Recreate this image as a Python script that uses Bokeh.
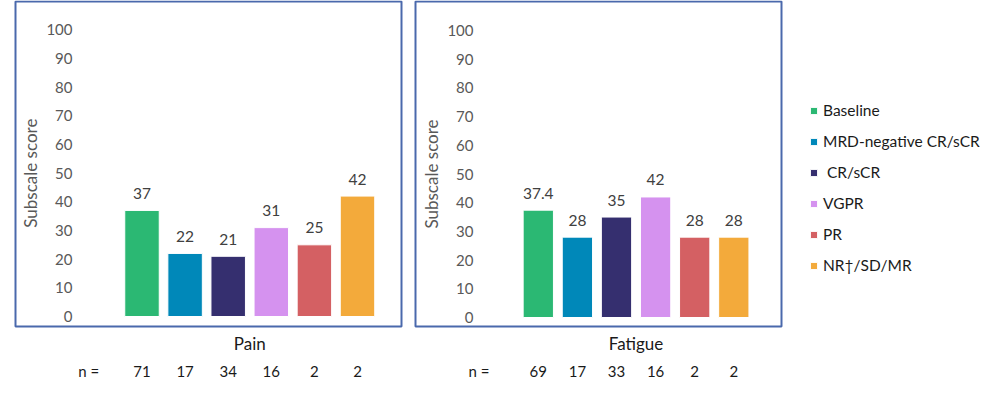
from bokeh.plotting import figure
from bokeh.layouts import row
from bokeh.models import (LinearAxis, FixedTicker, Legend, LegendItem, BoxAnnotation,
                          ColumnDataSource, Range1d)
from bokeh.core.properties import value
from bokeh.embed import file_html
from bokeh.resources import INLINE

# ---- data ----
groups = ["Baseline", "MRD-negative CR/sCR", " CR/sCR", "VGPR", "PR", "NR\u2020/SD/MR"]
colors = ["#2BB873", "#0088B9", "#352F6F", "#D592EF", "#D46063", "#F3AA3B"]
pain_scores = [37, 22, 21, 31, 25, 42]
pain_n = [71, 17, 34, 16, 2, 2]
fatigue_scores = [37.4, 28, 35, 42, 28, 28]
fatigue_n = [69, 17, 33, 16, 2, 2]
y_ticks = [0, 10, 20, 30, 40, 50, 60, 70, 80, 90, 100]
panel_titles = ["Pain", "Fatigue"]
y_title = "Subscale score"
n_prefix = "n ="

FONT = "Lato"
BOX_COLOR = "#4A69AC"
H = 392
FRAME_TOP = 0
FRAME_BOTTOM = 328
BOX_TOP = 1
BOX_BOTTOM = 326


def fmt(v):
    return str(int(v)) if float(v).is_integer() else str(v)


def hide_ticks(ax):
    ax.axis_line_color = None
    ax.major_tick_line_color = None
    ax.minor_tick_line_color = None
    ax.major_tick_out = 0
    ax.major_tick_in = 0
    ax.minor_tick_out = 0
    ax.minor_tick_in = 0


def make_panel(width, scores, ns, title, frame_left, frame_right, box_lr, bar0, pitch,
               zero_py, hundred_py, n_px, bar_w, label_right, title_center):
    def x_of(px):
        return (px - bar0) / pitch

    def y_of(py):
        return (zero_py - py) / (zero_py - hundred_py) * 100

    p = figure(width=width, height=H,
               x_range=Range1d(x_of(frame_left), x_of(frame_right)),
               y_range=Range1d(y_of(FRAME_BOTTOM), y_of(FRAME_TOP)),
               output_backend="svg", toolbar_location=None,
               min_border_left=frame_left, min_border_right=width - frame_right,
               min_border_top=FRAME_TOP, min_border_bottom=H - FRAME_BOTTOM)
    p.outline_line_color = None
    p.background_fill_color = "white"
    p.border_fill_color = "white"
    p.xgrid.visible = False
    p.ygrid.visible = False

    idx = list(range(len(scores)))
    src = ColumnDataSource(dict(x=idx, top=scores, color=colors,
                                label=[fmt(v) for v in scores]))
    bars = p.vbar(x="x", top="top", width=bar_w, bottom=0, source=src,
                  fill_color="color", line_color="white", line_width=1)
    p.text(x="x", y="top", text="label", source=src, text_align="center",
           text_baseline="middle", y_offset=-17, text_font=value(FONT),
           text_font_size="15.5px", text_color="#404040")

    # y axis: tick labels pulled inside the box with a negative standoff
    ya = p.yaxis[0]
    ya.ticker = FixedTicker(ticks=y_ticks)
    hide_ticks(ya)
    ya.major_label_standoff = -int(round(label_right - frame_left))
    ya.major_label_text_font = FONT
    ya.major_label_text_font_size = "15px"
    ya.major_label_text_color = "#595959"

    # y title as a single parallel label centred on the 0-100 scale
    mid_y = (y_ticks[0] + y_ticks[-1]) / 2
    yt = LinearAxis(ticker=FixedTicker(ticks=[mid_y]),
                    major_label_overrides={mid_y: y_title},
                    major_label_orientation="parallel")
    hide_ticks(yt)
    yt.major_label_standoff = -int(round(title_center - frame_left + 8))
    yt.major_label_text_font = FONT
    yt.major_label_text_font_size = "17px"
    yt.major_label_text_color = "#595959"
    p.add_layout(yt, "left")

    # x axis 1: panel title centred under the bars
    mid = (idx[0] + idx[-1]) / 2
    xa = p.xaxis[0]
    xa.ticker = FixedTicker(ticks=[mid])
    xa.major_label_overrides = {mid: title}
    hide_ticks(xa)
    xa.major_label_standoff = 6 - (FRAME_BOTTOM - BOX_BOTTOM)
    xa.major_label_text_font = FONT
    xa.major_label_text_font_size = "17px"
    xa.major_label_text_color = "#1a1a1a"

    # x axis 2: n row
    n_pos = x_of(n_px)
    overrides = {i: str(n) for i, n in zip(idx, ns)}
    overrides[n_pos] = n_prefix
    xb = LinearAxis(ticker=FixedTicker(ticks=[n_pos] + idx),
                    major_label_overrides=overrides)
    hide_ticks(xb)
    xb.major_label_standoff = 5
    xb.major_label_text_font = FONT
    xb.major_label_text_font_size = "15px"
    xb.major_label_text_color = "#1a1a1a"
    p.add_layout(xb, "below")

    # panel box
    box = BoxAnnotation(left=x_of(box_lr[0]), right=x_of(box_lr[1]),
                        top=y_of(BOX_TOP), bottom=y_of(BOX_BOTTOM),
                        fill_color=None, fill_alpha=0,
                        line_color=BOX_COLOR, line_alpha=1, line_width=2)
    p.add_layout(box)
    return p, bars


p1, _ = make_panel(408, pain_scores, pain_n, panel_titles[0],
                   frame_left=13, frame_right=408, box_lr=(15, 401),
                   bar0=141.5, pitch=43.1, zero_py=316, hundred_py=29.3,
                   n_px=88.3, bar_w=0.8, label_right=72, title_center=32.7)
p2, bars2 = make_panel(584, fatigue_scores, fatigue_n, panel_titles[1],
                       frame_left=5, frame_right=584, box_lr=(7, 373),
                       bar0=129.8, pitch=39.1, zero_py=317, hundred_py=30,
                       n_px=70.5, bar_w=0.775, label_right=65.3, title_center=25)

legend = Legend(items=[LegendItem(label=g, renderers=[bars2], index=i)
                       for i, g in enumerate(groups)],
                location=(396, 53), padding=0, margin=0, spacing=11,
                label_height=20, glyph_height=9, glyph_width=9, label_standoff=5,
                label_text_font=FONT, label_text_font_size="15.5px",
                label_text_color="#1a1a1a", border_line_color=None,
                background_fill_alpha=0)
p2.add_layout(legend)

layout = row(p1, p2)
open("out.html", "w").write(file_html(layout, INLINE))
